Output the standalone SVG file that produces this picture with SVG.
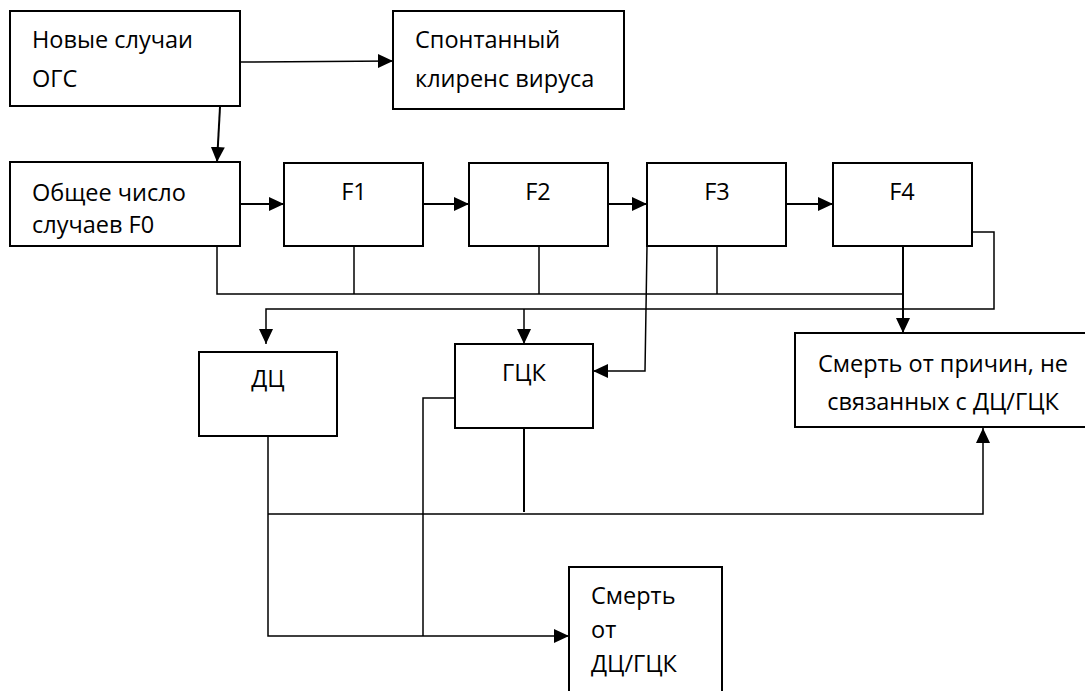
<svg xmlns="http://www.w3.org/2000/svg" width="1085" height="691" viewBox="0 0 1085 691">
<style>
.box{fill:#fff;stroke:#000;stroke-width:2}
.t{font-family:"Open Sans","Liberation Sans",sans-serif;font-size:23.5px;fill:#000}
.c{text-anchor:middle}
.ln{fill:none;stroke:#000;stroke-width:1.5}
.lb{fill:none;stroke:#000;stroke-width:2}
</style>
<defs>
<marker id="ar" markerUnits="userSpaceOnUse" markerWidth="15" markerHeight="15" refX="15" refY="7.5" orient="auto">
<path d="M0,0.5 L15,7.5 L0,14.5 z" fill="#000"/>
</marker>
</defs>
<rect width="1085" height="691" fill="#fff"/>
<g id="connectors">
<path class="ln" d="M240,62 L393,61" marker-end="url(#ar)"/>
<path class="lb" d="M220,107 L217,162" marker-end="url(#ar)"/>
<path class="lb" d="M240,204 L284,204" marker-end="url(#ar)"/>
<path class="lb" d="M423,204 L469,204" marker-end="url(#ar)"/>
<path class="lb" d="M608,204 L647,204" marker-end="url(#ar)"/>
<path class="lb" d="M786,204 L833,204" marker-end="url(#ar)"/>
<path class="ln" d="M217,246 V294 H903"/>
<path class="ln" d="M354,246 V294"/>
<path class="ln" d="M539,246 V294"/>
<path class="ln" d="M717,246 V294"/>
<path class="lb" d="M903,246 V333" marker-end="url(#ar)"/>
<path class="ln" d="M972,232 H994 V309 H266 V344" marker-end="url(#ar)"/>
<path class="ln" d="M524,309 V344" marker-end="url(#ar)"/>
<path class="ln" d="M647,246 L645,371 H593" marker-end="url(#ar)"/>
<path class="ln" d="M455,398 H423 V636"/>
<path class="ln" d="M268,436 V636 H569" marker-end="url(#ar)"/>
<path class="ln" d="M268,514 H983 V428" marker-end="url(#ar)"/>
<path class="lb" d="M524,428 V512"/>
</g>
<g id="n-new">
<rect class="box" x="10" y="11" width="230" height="95"/>
<text class="t" x="32" y="48">Новые случаи</text>
<text class="t" x="32" y="87">ОГС</text>
</g>
<g id="n-clear">
<rect class="box" x="393" y="11" width="231" height="98"/>
<text class="t" x="415" y="48">Спонтанный</text>
<text class="t" x="415" y="87">клиренс вируса</text>
</g>
<g id="n-f0">
<rect class="box" x="10" y="162" width="230" height="84"/>
<text class="t" x="32" y="201">Общее число</text>
<text class="t" x="32" y="233">случаев F0</text>
</g>
<g id="n-f1">
<rect class="box" x="284" y="163" width="139" height="83"/>
<text class="t c" x="354" y="200">F1</text>
</g>
<g id="n-f2">
<rect class="box" x="469" y="163" width="139" height="83"/>
<text class="t c" x="538" y="200">F2</text>
</g>
<g id="n-f3">
<rect class="box" x="647" y="163" width="139" height="83"/>
<text class="t c" x="717" y="200">F3</text>
</g>
<g id="n-f4">
<rect class="box" x="833" y="163" width="139" height="83"/>
<text class="t c" x="902" y="200">F4</text>
</g>
<g id="n-dc">
<rect class="box" x="199" y="352" width="138" height="84"/>
<text class="t c" x="268" y="387">ДЦ</text>
</g>
<g id="n-gck">
<rect class="box" x="455" y="344" width="138" height="84"/>
<text class="t c" x="524" y="381">ГЦК</text>
</g>
<g id="n-death-other">
<rect class="box" x="795" y="333" width="300" height="94"/>
<text class="t c" x="943" y="372">Смерть от причин, не</text>
<text class="t c" x="943" y="410">связанных с ДЦ/ГЦК</text>
</g>
<g id="n-death">
<rect class="box" x="569" y="567" width="153" height="200"/>
<text class="t" x="591" y="604">Смерть</text>
<text class="t" x="591" y="638">от</text>
<text class="t" x="591" y="672">ДЦ/ГЦК</text>
</g>
</svg>
